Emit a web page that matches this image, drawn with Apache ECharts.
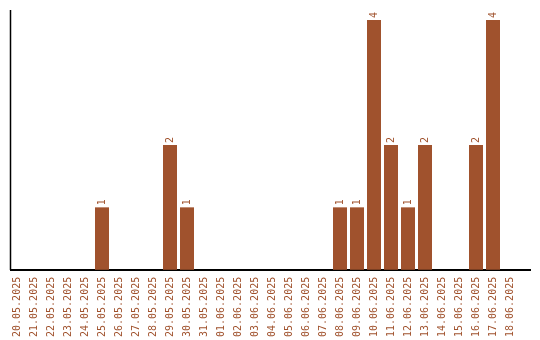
<!DOCTYPE html>
<html><head><meta charset="utf-8">
<script src="https://cdn.jsdelivr.net/npm/echarts@6/dist/echarts.min.js"></script>
<style>html,body{margin:0;padding:0;background:#fff}#c{width:540px;height:340px}</style>
</head><body><div id="c"></div>
<script>
var categories = ["20.05.2025","21.05.2025","22.05.2025","23.05.2025","24.05.2025","25.05.2025","26.05.2025","27.05.2025","28.05.2025","29.05.2025","30.05.2025","31.05.2025","01.06.2025","02.06.2025","03.06.2025","04.06.2025","05.06.2025","06.06.2025","07.06.2025","08.06.2025","09.06.2025","10.06.2025","11.06.2025","12.06.2025","13.06.2025","14.06.2025","15.06.2025","16.06.2025","17.06.2025","18.06.2025"];
var values = [0,0,0,0,0,1,0,0,0,2,1,0,0,0,0,0,0,0,0,1,1,4,2,1,2,0,0,2,4,0];
var color = '#A0522D';
var font = '"DejaVu Sans Mono", monospace';
var chart = echarts.init(document.getElementById('c'));
chart.setOption({
  animation: false,
  grid: {left: 8.5, right: 21.5, top: 20, bottom: 70, containLabel: false},
  xAxis: {
    type: 'category', data: categories,
    axisLine: {show: false}, axisTick: {show: false},
    axisLabel: {rotate: 90, interval: 0, margin: 7, color: color, fontFamily: font, fontSize: 10}
  },
  yAxis: {
    type: 'value', min: 0, max: 4,
    axisLine: {show: false}, axisTick: {show: false}, axisLabel: {show: false}, splitLine: {show: false}
  },
  series: [{
    type: 'bar', data: values.map(function(v){ return v === 0 ? null : v; }), barWidth: 14,
    itemStyle: {color: color},
    label: {show: true, position: 'top', rotate: 90, align: 'left', verticalAlign: 'middle', distance: 2,
      color: color, fontFamily: font, fontSize: 10}
  }],
  graphic: [
    {type: 'line', shape: {x1: 10.5, y1: 10, x2: 10.5, y2: 270}, style: {stroke: '#000', lineWidth: 1.5}},
    {type: 'line', shape: {x1: 10, y1: 270, x2: 531, y2: 270}, style: {stroke: '#000', lineWidth: 2}}
  ]
});
</script></body></html>
